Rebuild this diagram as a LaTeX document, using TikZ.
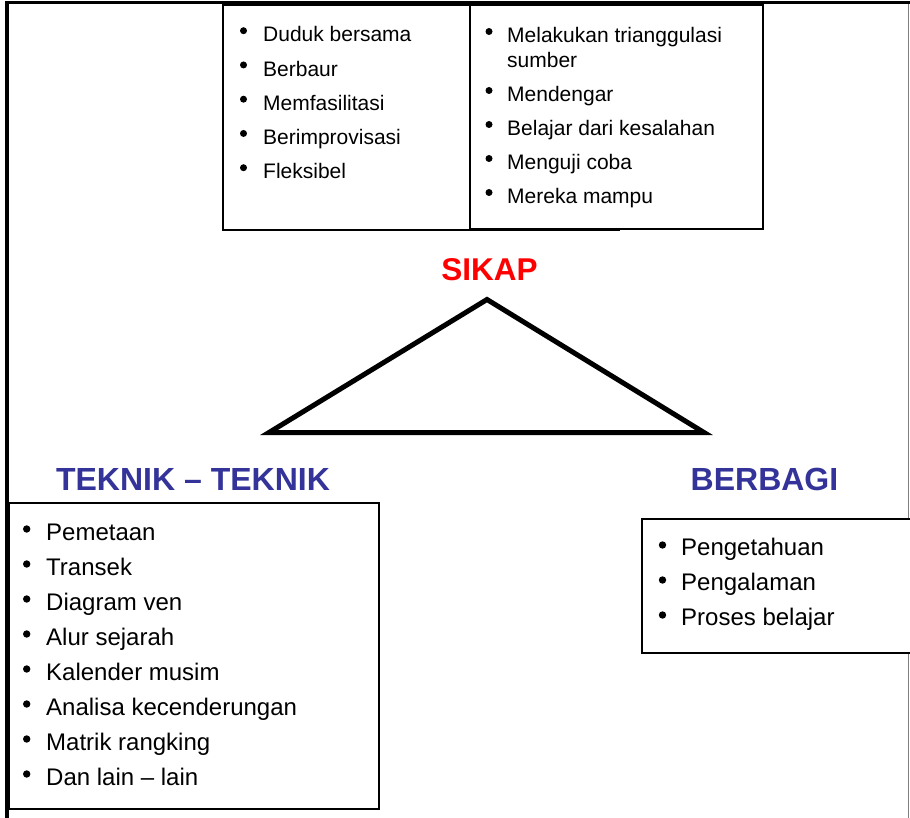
\documentclass[tikz,border=0pt]{standalone}
\usepackage{fontspec}
\setmainfont{Liberation Sans}
\definecolor{titleblue}{RGB}{51,51,153}
\definecolor{sikapred}{RGB}{255,0,0}
\begin{document}
\begin{tikzpicture}[x=1pt,y=-1pt,
  frame/.style={draw, line width=2.2pt, inner sep=0pt, anchor=north west, fill=white},
  bigitem/.style={anchor=base west, inner sep=0pt, font=\fontsize{24}{28}\selectfont},
  smallitem/.style={anchor=base west, inner sep=0pt, font=\fontsize{21}{25}\selectfont},
  title/.style={anchor=base, inner sep=0pt, font=\fontsize{32}{36}\selectfont\bfseries, text=titleblue},
]
\useasboundingbox (0,0) rectangle (910,818);
\begin{scope}
\clip (0,0) rectangle (910,818);
% outer frame lines
\draw[line width=3pt] (5,3) -- (910,3);
\draw[line width=3.5pt] (7,2) -- (7,818);
\draw[gray, line width=1pt] (908,4) -- (908,818);

% top boxes
\node[frame, minimum width=396pt, minimum height=225pt] (boxA) at (222,4) {};
\node[frame, minimum width=293pt, minimum height=224pt] (boxB) at (469,4) {};
\draw[line width=3pt] (5,3) -- (910,3);

% bottom boxes
\node[frame, minimum width=370pt, minimum height=306pt] (boxC) at (8,502) {};
\node[frame, minimum width=290pt, minimum height=134pt] (boxD) at (641,518) {};
\end{scope}

% top-left list
\foreach \t [count=\i from 0] in {Duduk bersama, Berbaur, Memfasilitasi, Berimprovisasi, Fleksibel} {
  \node[smallitem] (a\i) at (263, 42+34.25*\i) {\t};
  \fill (243.5, 30.7+34.25*\i) circle[radius=3.5pt];
}

% top-right list
\node[smallitem] (b0) at (507,43) {Melakukan trianggulasi};
\node[smallitem] (b0b) at (507,68) {sumber};
\fill (489,31.5) circle[radius=3.5pt];
\foreach \t [count=\i from 1] in {Mendengar, Belajar dari kesalahan, Menguji coba, Mereka mampu} {
  \node[smallitem] (b\i) at (507, 68+34*\i) {\t};
  \fill (489, 56.5+34*\i) circle[radius=3.5pt];
}

% SIKAP and triangle
\node[anchor=base, inner sep=0pt, font=\fontsize{31.5}{36}\selectfont\bfseries, text=sikapred] (sikap) at (489.5,280) {SIKAP};
\draw[line width=5pt, miter limit=10] (487,299.5) -- (704,432.5) -- (269,432.5) -- cycle;

% titles
\node[title] (teknik) at (193,490) {TEKNIK – TEKNIK};
\node[title] (berbagi) at (764.5,490) {BERBAGI};

% bottom-left list
\foreach \t [count=\i from 0] in {Pemetaan, Transek, Diagram ven, Alur sejarah, Kalender musim, Analisa kecenderungan, Matrik rangking, Dan lain – lain} {
  \node[bigitem] (c\i) at (46, 540+35*\i) {\t};
  \fill (26.7, 529+35*\i) circle[radius=3.7pt];
}

% bottom-right list
\foreach \t [count=\i from 0] in {Pengetahuan, Pengalaman, Proses belajar} {
  \node[bigitem] (d\i) at (681, 555+35*\i) {\t};
  \fill (662.5, 545+35*\i) circle[radius=3.7pt];
}
\end{tikzpicture}
\end{document}
